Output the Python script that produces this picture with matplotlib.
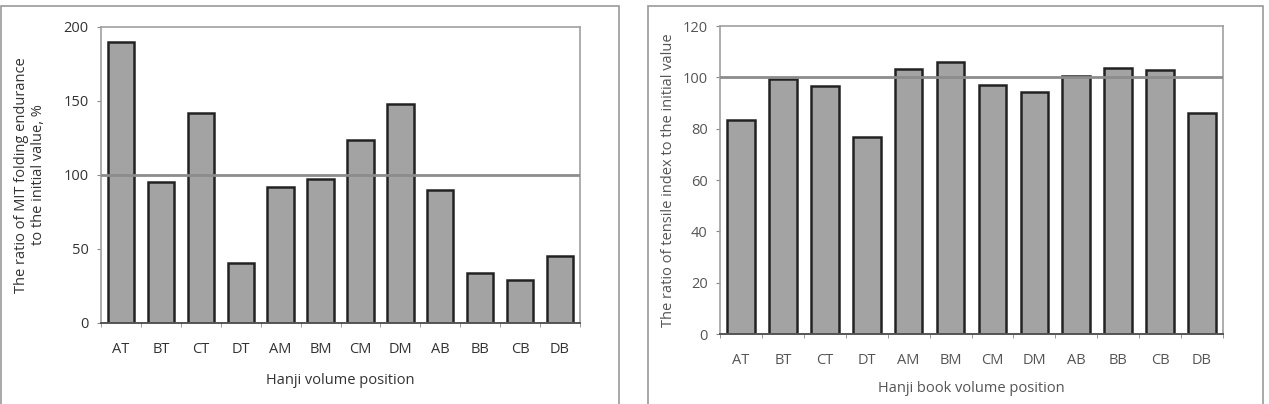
import numpy as np
import matplotlib.pyplot as plt
from matplotlib.patches import Rectangle

positions = ["AT", "BT", "CT", "DT", "AM", "BM", "CM", "DM", "AB", "BB", "CB", "DB"]
folding_ratio = [190, 95, 142, 40.5, 92, 97, 123.5, 148, 90, 33.5, 29, 45]
tensile_ratio = [83.3, 99.2, 96.8, 76.8, 103.4, 106.1, 97.1, 94.2, 100.6, 103.6, 103.0, 86.0]

plt.rcParams['font.family'] = ['Open Sans', 'DejaVu Sans']

fig = plt.figure(figsize=(12.69, 4.04), dpi=100)

# outer panel frames
for x0, x1 in [(1, 619), (648, 1263)]:
    fig.patches.append(Rectangle((x0 / 1269, -0.05), (x1 - x0) / 1269, 1.035,
                                 transform=fig.transFigure, fill=False,
                                 edgecolor="#999999", lw=1.2))


def draw_panel(rect, values, ymax, ystep, ylabel, xlabel, label_x, xlabel_y, txtcol):
    ax = fig.add_axes(rect)
    x = np.arange(len(positions))
    ax.bar(x, values, width=0.66, color="#a3a3a3", edgecolor="#222222", linewidth=1.8, zorder=2)
    ax.axhline(100, color="#8c8c8c", lw=2, zorder=3)
    ax.set_xlim(-0.5, len(positions) - 0.5)
    ax.set_ylim(0, ymax)
    ax.set_yticks(np.arange(0, ymax + 1, ystep))
    ax.set_xticks(x)
    ax.set_xticklabels(positions)
    ax.set_xticks(np.arange(-0.5, len(positions), 1), minor=True)
    ax.tick_params(axis="x", which="major", length=0, pad=14, labelsize=10.5, labelcolor=txtcol)
    ax.tick_params(axis="x", which="minor", length=3, color="#888888", direction="out")
    ax.tick_params(axis="y", length=3, color="#888888", labelsize=10.5, labelcolor=txtcol, pad=6)
    for side in ["top", "right", "left"]:
        ax.spines[side].set_color("#a0a0a0")
        ax.spines[side].set_linewidth(1.2)
    ax.spines["bottom"].set_color("#555555")
    ax.spines["bottom"].set_linewidth(1.4)
    fig.text(label_x, rect[1] + rect[3] / 2, ylabel, rotation=90, ha="center", va="center",
             fontsize=10.5, color=txtcol, linespacing=1.25)
    fig.text(rect[0] + rect[2] / 2, xlabel_y, xlabel, ha="center", va="center",
             fontsize=10.5, color=txtcol)
    return ax


draw_panel([101 / 1269, 81 / 404, 479 / 1269, 296 / 404], folding_ratio, 200, 50,
           "The ratio of MIT folding endurance\nto the initial value, %",
           "Hanji volume position", 30 / 1269, 1 - 380 / 404, "#333333")
draw_panel([720 / 1269, 70 / 404, 503 / 1269, 308 / 404], tensile_ratio, 120, 20,
           "The ratio of tensile index to the initial value",
           "Hanji book volume position", 668 / 1269, 1 - 389 / 404, "#555555")

fig.savefig("out.png", dpi=100)
